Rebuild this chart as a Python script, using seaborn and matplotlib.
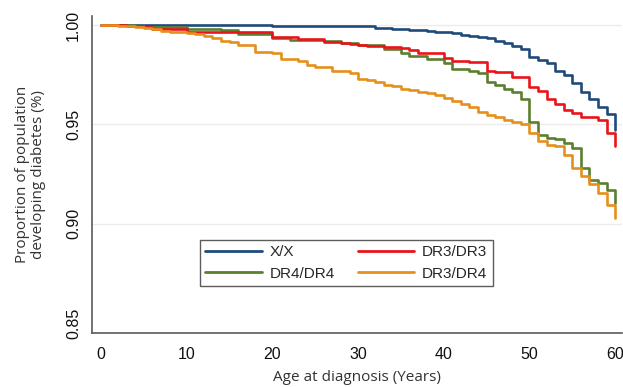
import numpy as np
import pandas as pd
import seaborn as sns
import matplotlib
matplotlib.use("Agg")
import matplotlib.pyplot as plt

# Age (years) at which each step of the survival curves is evaluated
ages = list(range(0, 61))

# Proportion free of diabetes by genotype, value after the step at each age
xx = [1.000] * 20 + [0.9995] * 12 + [
    0.9987, 0.9985, 0.9980, 0.9980, 0.9977, 0.9973, 0.9970, 0.9967, 0.9962,
    0.9957, 0.9950, 0.9945, 0.9940, 0.9932, 0.9920, 0.9908, 0.9895, 0.9880,
    0.9840, 0.9825, 0.9808, 0.9770, 0.9750, 0.9707, 0.9665, 0.9625, 0.9588,
    0.9553, 0.9470]

dr3_dr3 = [
    1.000, 1.000, 1.000, 0.9997, 0.9995, 0.9990, 0.9980, 0.9980, 0.9980, 0.9980,
    0.9967, 0.9967, 0.9967, 0.9967, 0.9967, 0.9967, 0.9962, 0.9962, 0.9962, 0.9962,
    0.9940, 0.9940, 0.9940, 0.9930, 0.9930, 0.9930, 0.9916, 0.9916, 0.9910, 0.9905,
    0.9900, 0.9894, 0.9894, 0.9888, 0.9888, 0.9885, 0.9874, 0.9860, 0.9860, 0.9860,
    0.9835, 0.9820, 0.9820, 0.9815, 0.9812, 0.9770, 0.9765, 0.9765, 0.9740, 0.9740,
    0.9690, 0.9667, 0.9625, 0.9600, 0.9572, 0.9555, 0.9535, 0.9535, 0.9520, 0.9457,
    0.9390]

dr4_dr4 = [
    1.000, 1.000, 1.000, 1.000, 0.9995, 0.9990, 0.9990, 0.9990, 0.9990, 0.9990,
    0.9980, 0.9980, 0.9980, 0.9980, 0.9975, 0.9975, 0.9955, 0.9955, 0.9955, 0.9955,
    0.9936, 0.9936, 0.9925, 0.9925, 0.9925, 0.9925, 0.9920, 0.9920, 0.9908, 0.9908,
    0.9900, 0.9900, 0.9900, 0.9878, 0.9878, 0.9858, 0.9844, 0.9844, 0.9828, 0.9828,
    0.9810, 0.9780, 0.9780, 0.9770, 0.9760, 0.9715, 0.9700, 0.9680, 0.9665, 0.9625,
    0.9510, 0.9447, 0.9430, 0.9425, 0.9407, 0.9380, 0.9280, 0.9218, 0.9205, 0.9170,
    0.9106]

dr3_dr4 = [
    1.000, 0.9998, 0.9997, 0.9995, 0.9990, 0.9987, 0.9980, 0.9970, 0.9966, 0.9962,
    0.9958, 0.9953, 0.9946, 0.9933, 0.9920, 0.9916, 0.9900, 0.9900, 0.9866, 0.9866,
    0.9858, 0.9830, 0.9830, 0.9820, 0.9800, 0.9790, 0.9790, 0.9770, 0.9770, 0.9757,
    0.9730, 0.9725, 0.9715, 0.9700, 0.9695, 0.9680, 0.9675, 0.9665, 0.9660, 0.9650,
    0.9630, 0.9615, 0.9600, 0.9586, 0.9564, 0.9545, 0.9535, 0.9520, 0.9510, 0.9500,
    0.9457, 0.9414, 0.9397, 0.9390, 0.9347, 0.9280, 0.9238, 0.9200, 0.9154, 0.9096,
    0.9030]

genotypes = ["X/X", "DR4/DR4", "DR3/DR3", "DR3/DR4"]
series = [xx, dr4_dr4, dr3_dr3, dr3_dr4]
colors = ["#1f4a7a", "#5b7f2f", "#e8141a", "#e6901c"]

df = pd.concat(
    [pd.DataFrame({"age": ages, "prop": vals, "genotype": g})
     for g, vals in zip(genotypes, series)],
    ignore_index=True,
)

sns.set_theme(style="white")
plt.rcParams["font.family"] = ["Liberation Sans", "DejaVu Sans"]

fig = plt.figure(figsize=(6.23, 3.87), dpi=100)
ax = fig.add_axes([92 / 623, 1 - 333 / 387, 530 / 623, 317 / 387])

sns.lineplot(
    data=df, x="age", y="prop", hue="genotype", hue_order=genotypes,
    palette=colors, estimator=None, drawstyle="steps-post",
    linewidth=1.9, ax=ax,
)

ax.set_xlim(-1.05, 60.8)
ax.set_ylim(0.845, 1.0045)
ax.set_xticks([0, 10, 20, 30, 40, 50, 60])
ax.set_yticks([0.85, 0.90, 0.95, 1.00])
ax.set_yticklabels(["0.85", "0.90", "0.95", "1.00"])

ax.yaxis.grid(True, color="#ececec", linewidth=1.0)
ax.yaxis.get_gridlines()[0].set_visible(False)
ax.set_axisbelow(True)

for side in ("top", "right"):
    ax.spines[side].set_visible(False)
for side in ("left", "bottom"):
    ax.spines[side].set_color("#5a5a5a")
    ax.spines[side].set_linewidth(1.2)

ax.tick_params(axis="both", which="both", direction="out", length=5,
               width=1.0, color="#5a5a5a", labelsize=11.5, labelcolor="#111111")
ax.tick_params(axis="y", pad=3)
ax.tick_params(axis="x", pad=5)
for lab in ax.get_yticklabels():
    lab.set_rotation(90)
    lab.set_va("center")

label_font = dict(family=["Open Sans", "DejaVu Sans"], size=11, color="#333333")
ax.set_xlabel("Age at diagnosis (Years)", labelpad=6, **label_font)
ax.set_ylabel("Proportion of population\ndeveloping diabetes (%)",
              labelpad=14, linespacing=1.15, **label_font)

handles, labels = ax.get_legend_handles_labels()
leg = ax.legend(
    handles, labels, ncol=2, loc="lower left",
    bbox_to_anchor=(0.204, 0.148), borderaxespad=0,
    frameon=True, fancybox=False, edgecolor="#333333",
    fontsize=11, handlelength=3.7, handletextpad=0.5,
    columnspacing=1.5, labelspacing=0.5, borderpad=0.35,
)
leg.get_frame().set_linewidth(1.0)
for line in leg.get_lines():
    line.set_linewidth(2.0)

fig.savefig("out.png", dpi=100)
